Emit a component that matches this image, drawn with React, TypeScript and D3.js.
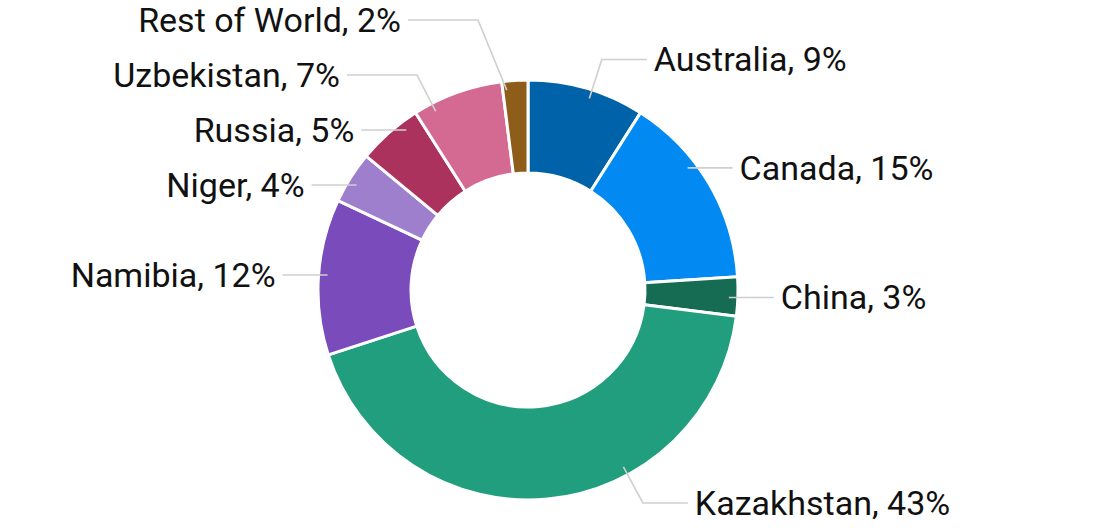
import { useEffect, useRef } from 'react';
import * as d3 from 'd3';

const countries = ['Australia', 'Canada', 'China', 'Kazakhstan', 'Namibia', 'Niger', 'Russia', 'Uzbekistan', 'Rest of World'];
const shares = [9, 15, 3, 43, 12, 4, 5, 7, 2];
const sliceColors = ['#0062A8', '#038AF2', '#166B53', '#219E7E', '#794BBB', '#9D7FCD', '#AC325E', '#D46A91', '#8E5D1A'];

interface LabelItem {
  i: number;
  a0: number;
  a1: number;
  mid: number;
  right: boolean;
  y0: number;
  y: number;
}

const App = () => {
  const chartRef = useRef<SVGSVGElement | null>(null);

  useEffect(() => {
    const width = 1100;
    const height = 531;
    const cx = 528;
    const cy = 290;
    const outerR = 210;
    const innerR = 117;
    const lineR = 201;
    const labelR = 240;
    const elbowR = 242;
    const gap = 55;
    const stub = 45;
    const yMin = 20;
    const yMax = 503;

    const svg = d3.select(chartRef.current);
    svg.selectAll('*').remove();
    svg.attr('width', width).attr('height', height);

    const pie = d3.pie<number>().sort(null).value(d => d);
    const arcs = pie(shares);
    const arc = d3.arc<d3.PieArcDatum<number>>().innerRadius(innerR).outerRadius(outerR);

    const g = svg.append('g').attr('transform', `translate(${cx},${cy})`);

    g.selectAll('path.slice')
      .data(arcs)
      .enter()
      .append('path')
      .attr('class', 'slice')
      .attr('d', arc)
      .attr('fill', (d, i) => sliceColors[i])
      .attr('stroke', '#fff')
      .attr('stroke-width', 3)
      .attr('stroke-linejoin', 'miter');

    // label placement: natural y on a circle, then push apart per side
    const items: LabelItem[] = arcs.map((d, i) => {
      const mid = (d.startAngle + d.endAngle) / 2;
      const y0 = Math.max(yMin, Math.min(yMax, cy - labelR * Math.cos(mid)));
      return { i, a0: d.startAngle, a1: d.endAngle, mid, right: Math.sin(mid) >= 0, y0, y: y0 };
    });

    [true, false].forEach(side => {
      const list = items.filter(d => d.right === side).sort((a, b) => a.y0 - b.y0);
      let clusters = list.map(d => [d]);
      let merged = true;
      const place = (c: LabelItem[]) => {
        const mean = d3.mean(c, d => d.y0) as number;
        let start = mean - ((c.length - 1) * gap) / 2;
        start = Math.max(yMin, Math.min(yMax - (c.length - 1) * gap, start));
        c.forEach((d, k) => { d.y = start + k * gap; });
      };
      clusters.forEach(place);
      while (merged) {
        merged = false;
        for (let k = 1; k < clusters.length; k++) {
          const prev = clusters[k - 1];
          const cur = clusters[k];
          if (prev[prev.length - 1].y + gap > cur[0].y) {
            const c = prev.concat(cur);
            place(c);
            clusters = clusters.slice(0, k - 1).concat([c], clusters.slice(k + 1));
            merged = true;
            break;
          }
        }
      }
    });

    const pad = 0.02;
    const labels = svg.append('g');

    items.forEach(d => {
      const dir = d.right ? 1 : -1;
      const dy = d.y - cy;
      let pts: [number, number][] = [];
      let endX = 0;
      let hit = false;
      if (Math.abs(dy) < lineR) {
        const base = Math.acos(-dy / lineR);
        const ang = d.right ? base : 2 * Math.PI - base;
        if (ang > d.a0 + pad && ang < d.a1 - pad) {
          const sx = cx + Math.sin(ang) * lineR;
          endX = sx + dir * stub;
          pts = [[sx, d.y], [endX, d.y]];
          hit = true;
        }
      }
      if (!hit) {
        const ex = cx + dir * Math.sqrt(Math.max(elbowR * elbowR - dy * dy, 50 * 50));
        let ang = Math.atan2(ex - cx, -dy);
        if (ang < 0) ang += 2 * Math.PI;
        ang = Math.max(d.a0 + pad, Math.min(d.a1 - pad, ang));
        endX = ex + dir * (d.right ? stub : stub + 25);
        pts = [[cx + Math.sin(ang) * lineR, cy - Math.cos(ang) * lineR], [ex, d.y], [endX, d.y]];
      }

      labels.append('path')
        .attr('d', d3.line()(pts))
        .attr('fill', 'none')
        .attr('stroke', '#cfcfcf')
        .attr('stroke-width', 1.6);

      labels.append('text')
        .attr('x', endX + dir * 7)
        .attr('y', d.y)
        .attr('dy', '0.35em')
        .attr('text-anchor', d.right ? 'start' : 'end')
        .attr('font-family', 'Roboto, sans-serif')
        .attr('font-size', 34)
        .attr('fill', '#111')
        .text(`${countries[d.i]}, ${shares[d.i]}%`);
    });
  }, []);

  return (
    <div>
      <svg ref={chartRef} style={{ position: 'absolute', left: 0, top: 0 }}></svg>
    </div>
  );
};

export default App;
